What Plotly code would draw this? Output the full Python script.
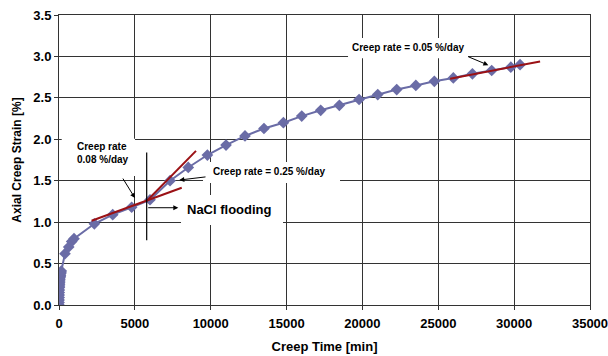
import plotly.graph_objects as go

# ---- data ----
time_min = [0, 3, 6, 9, 12, 16, 20, 25, 30, 36, 42, 50, 58, 66, 75, 85, 95, 110, 130, 150,
            395, 640, 835, 990, 2330, 3540, 4790, 6000, 7320, 8520, 9780, 11010, 12260,
            13510, 14790, 16000, 17250, 18480, 19780, 21010, 22260, 23520, 24740, 25990,
            27250, 28520, 29780, 30390]
strain_pct = [0.0, 0.03, 0.06, 0.09, 0.12, 0.15, 0.18, 0.21, 0.23, 0.25, 0.27, 0.29, 0.31,
              0.33, 0.34, 0.35, 0.36, 0.38, 0.39, 0.41,
              0.62, 0.70, 0.765, 0.80, 0.98, 1.09, 1.18, 1.27, 1.50, 1.66, 1.81, 1.93, 2.04,
              2.13, 2.20, 2.28, 2.35, 2.41, 2.48, 2.54, 2.60, 2.65, 2.70, 2.74,
              2.79, 2.83, 2.87, 2.90]

fit_008_x = [2150, 8090]
fit_008_y = [1.017, 1.415]
fit_025_x = [5780, 9030]
fit_025_y = [1.255, 1.86]
fit_005_x = [25780, 31710]
fit_005_y = [2.73, 2.94]

flood_time = 5780
flood_span = [0.78, 1.84]

x_ticks = [0, 5000, 10000, 15000, 20000, 25000, 30000, 35000]
x_tick_labels = ["0", "5000", "10000", "15000", "20000", "25000", "30000", "35000"]
y_ticks = [0.0, 0.5, 1.0, 1.5, 2.0, 2.5, 3.0, 3.5]
y_tick_labels = ["0.0", "0.5", "1.0", "1.5", "2.0", "2.5", "3.0", "3.5"]

LINE_BLUE = "#6a6ca6"
RED = "#9b1115"
GRID = "#333333"
FONT = "Liberation Sans, Arial, sans-serif"

fig = go.Figure()

fig.add_trace(go.Scatter(
    x=time_min, y=strain_pct, mode="lines+markers",
    line=dict(color=LINE_BLUE, width=2),
    marker=dict(symbol="diamond", size=9, color=LINE_BLUE),
    showlegend=False, hoverinfo="skip"))

for fx, fy in [(fit_008_x, fit_008_y), (fit_025_x, fit_025_y), (fit_005_x, fit_005_y)]:
    fig.add_trace(go.Scatter(x=fx, y=fy, mode="lines",
                             line=dict(color=RED, width=2),
                             showlegend=False, hoverinfo="skip"))

# NaCl flooding marker line
fig.add_trace(go.Scatter(x=[flood_time, flood_time], y=flood_span, mode="lines",
                         line=dict(color="black", width=1.2),
                         showlegend=False, hoverinfo="skip"))

# white label boxes covering the grid
shapes = []
for x0, x1, y0, y1 in [(180, 5010, 1.556, 2.006),
                       (9492, 18523, 1.472, 1.725),
                       (8042, 14766, 0.965, 1.327),
                       (19051, 26961, 2.979, 3.221)]:
    shapes.append(dict(type="rect", xref="x", yref="y", x0=x0, x1=x1, y0=y0, y1=y1,
                       fillcolor="white", line=dict(width=0), layer="between"))

annots = []

def label(text, x, y, size):
    return dict(x=x, y=y, xref="x", yref="y", text=text, showarrow=False,
                xanchor="left", yanchor="middle", align="left",
                font=dict(family=FONT, size=size, color="black"))

annots.append(label("<b>Creep rate</b><br><b>0.08 %/day</b>", 1055, 1.834, 10))
annots.append(label("<b>Creep rate = 0.25 %/day</b>", 10020, 1.616, 10))
annots.append(label("<b>NaCl flooding</b>", 8306, 1.158, 13))
annots.append(label("<b>Creep rate = 0.05 %/day</b>", 19183, 3.104, 10))

def arrow(tx, ty, hx, hy):
    return dict(x=hx, y=hy, ax=tx, ay=ty, xref="x", yref="y", axref="x", ayref="y",
                text="", showarrow=True, arrowhead=2, arrowsize=1, arrowwidth=1,
                arrowcolor="black", standoff=0, startstandoff=0)

annots.append(arrow(4153, 1.544, 5010, 1.29))
annots.append(arrow(9756, 1.548, 7930, 1.508))
annots.append(arrow(26876, 3.004, 28300, 2.895))
annots.append(arrow(5781, 1.174, 7864, 1.174))

axis_common = dict(showgrid=True, gridcolor=GRID, gridwidth=1,
                   showline=True, linecolor=GRID, linewidth=1, mirror=True,
                   ticks="outside", ticklen=4, tickcolor=GRID, tickwidth=1,
                   zeroline=False, layer="below traces", ticklabeloverflow="allow",
                   tickfont=dict(family=FONT, size=13, color="black"))

fig.update_layout(
    width=608, height=356,
    margin=dict(l=59, r=18, t=15, b=51, autoexpand=False),
    paper_bgcolor="white", plot_bgcolor="white",
    font=dict(family=FONT, size=13, color="black"),
    annotations=annots, shapes=shapes,
    xaxis=dict(range=[0, 35000], tickvals=x_ticks,
               ticktext=["<b>%s</b>" % t for t in x_tick_labels],
               ticklabelstandoff=2,
               title=dict(text="<b>Creep Time [min]</b>", standoff=12,
                          font=dict(family=FONT, size=13, color="black")),
               **axis_common),
    yaxis=dict(range=[0, 3.5], tickvals=y_ticks,
               ticktext=["<b>%s</b>" % t for t in y_tick_labels],
               title=dict(text="<b>Axial Creep Strain [%]</b>", standoff=9,
                          font=dict(family=FONT, size=12, color="black")),
               **axis_common),
)

fig.write_html("out.html", config={"displayModeBar": False},
               post_script="document.body.style.margin='0';")
